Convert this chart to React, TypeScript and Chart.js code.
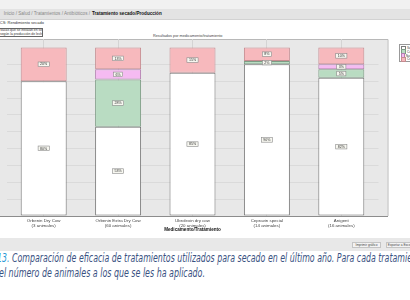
import React, { useEffect, useRef } from "react";
import { Chart, registerables } from "chart.js";

Chart.register(...registerables);

const categories: string[][] = [
  ["Orbenin Dry Cow", "(3 animales)"],
  ["Orbenin Extra Dry Cow", "(60 animales)"],
  ["Ubrolexin dry cow", "(20 animales)"],
  ["Cepravin special", "(14 animales)"],
  ["Anigent", "(16 animales)"],
];
const seriesNames = ["Sana/Sana", "Curada", "Nueva infección", "Crónica"];
const sanaValues = [80, 53, 85, 90, 82];
const curadaValues = [0, 28, 0, 2, 5];
const nuevaValues = [0, 6, 0, 0, 3];
const cronicaValues = [20, 13, 15, 8, 10];
const fills = ["#ffffff", "#b9dcc2", "#f5bbf2", "#f7b9bd"];
const borders = ["#7a7a7a", "#7d9c85", "#b27fb0", "#c58c91"];

const framePlugin = {
  id: "frame",
  beforeDraw(chart: any) {
    const { ctx, chartArea } = chart;
    ctx.save();
    ctx.fillStyle = "#e8e8e8";
    ctx.fillRect(0, chartArea.top, chartArea.right + 9, chartArea.bottom - chartArea.top);
    ctx.strokeStyle = "#b8b8b8";
    ctx.lineWidth = 1;
    ctx.beginPath();
    ctx.moveTo(0, chartArea.top + 0.5);
    ctx.lineTo(chartArea.right + 9.5, chartArea.top + 0.5);
    ctx.lineTo(chartArea.right + 9.5, chartArea.bottom);
    ctx.stroke();
    ctx.restore();
  },
  afterDatasetsDraw(chart: any) {
    const { ctx, chartArea } = chart;
    ctx.save();
    ctx.strokeStyle = "#8c8c8c";
    ctx.lineWidth = 1;
    ctx.beginPath();
    ctx.moveTo(0, chartArea.bottom + 0.5);
    ctx.lineTo(chartArea.right + 9.5, chartArea.bottom + 0.5);
    ctx.stroke();
    chart.data.datasets.forEach((ds: any, i: number) => {
      const meta = chart.getDatasetMeta(i);
      meta.data.forEach((el: any, j: number) => {
        const v = ds.data[j];
        if (!v) return;
        const p = el.getProps(["x", "y", "base"], true);
        const cy = (p.y + p.base) / 2;
        const text = v + "%";
        ctx.font = "3.6px 'Liberation Sans', Arial, sans-serif";
        const w = ctx.measureText(text).width + 4;
        const h = 4.6;
        ctx.fillStyle = "#f7f7f0";
        ctx.fillRect(p.x - w / 2, cy - h / 2, w, h);
        ctx.strokeStyle = "#8a8a8a";
        ctx.lineWidth = 0.6;
        ctx.strokeRect(p.x - w / 2, cy - h / 2, w, h);
        ctx.fillStyle = "#333";
        ctx.textAlign = "center";
        ctx.textBaseline = "middle";
        ctx.fillText(text, p.x, cy + 0.2);
      });
    });
    ctx.restore();
  },
};

function ChartBox() {
  const ref = useRef<HTMLCanvasElement | null>(null);
  useEffect(() => {
    if (!ref.current) return;
    const values = [sanaValues, curadaValues, nuevaValues, cronicaValues];
    const chart = new Chart(ref.current, {
      type: "bar",
      data: {
        labels: categories,
        datasets: values.map((d, i) => ({
          label: seriesNames[i],
          data: d,
          backgroundColor: fills[i],
          borderColor: borders[i],
          borderWidth: 1,
          borderSkipped: false,
          categoryPercentage: 1,
          barPercentage: 0.618,
        })),
      },
      options: {
        animation: false,
        responsive: false,
        maintainAspectRatio: false,
        devicePixelRatio: 1,
        layout: { padding: { left: 6.5, right: 31.5, top: 9, bottom: 0 } },
        plugins: { legend: { display: false }, tooltip: { enabled: false }, title: { display: false } },
        scales: {
          x: {
            stacked: true,
            offset: true,
            grid: { display: true, offset: false, color: "#d4d4d4", drawTicks: false },
            border: { display: false },
            ticks: {
              color: "#444",
              padding: 3,
              maxRotation: 0,
              autoSkip: false,
              font: { size: 4.4, family: "'Liberation Sans', Arial, sans-serif", lineHeight: 1.0 },
            },
            title: {
              display: true,
              text: "Medicamento/Tratamiento",
              color: "#111",
              padding: { top: 0, bottom: 6 },
              font: { size: 4.6, weight: "bold", family: "'Liberation Sans', Arial, sans-serif", lineHeight: 1.0 },
            },
            afterFit: (s: any) => {
              s.height = 22;
            },
          },
          y: {
            stacked: true,
            min: 0,
            max: 105,
            ticks: { display: false, stepSize: 10 },
            border: { display: false },
            grid: {
              drawTicks: false,
              color: (c: any) => (c.tick && c.tick.value > 0 && c.tick.value <= 100 ? "#dadada" : "rgba(0,0,0,0)"),
            },
            afterFit: (s: any) => {
              s.width = 0;
            },
          },
        },
      },
      plugins: [framePlugin],
    });
    return () => chart.destroy();
  }, []);
  return (
    <canvas
      ref={ref}
      width={410}
      height={208}
      style={{ position: "absolute", left: 0, top: 30, width: 410, height: 208 }}
    />
  );
}

const small: React.CSSProperties = {
  position: "absolute",
  whiteSpace: "nowrap",
  fontFamily: "'Liberation Sans', Arial, sans-serif",
};

const caption: React.CSSProperties = {
  position: "absolute",
  whiteSpace: "nowrap",
  fontFamily: "'DejaVu Sans Condensed', 'DejaVu Sans', sans-serif",
  fontStretch: "condensed",
  fontStyle: "italic",
  fontSize: 12,
  lineHeight: "15px",
  color: "#3a5282",
  transform: "scaleX(0.735)",
  transformOrigin: "0 0",
};

export default function App() {
  return (
    <div style={{ position: "fixed", left: 0, top: 0, width: 410, height: 300, background: "#fff", overflow: "hidden" }}>
      <div style={{ position: "absolute", left: 0, top: 0, width: 410, height: 9, background: "#f1f1f1" }} />
      <div style={{ position: "absolute", left: 0, top: 9, width: 410, height: 10, background: "#e3e3e3", borderBottom: "1px solid #d2d2d2" }} />
      <div style={{ ...small, right: 320, top: 11, fontSize: 4.6, color: "#888" }}>
        Inicio / Salud / Tratamientos / Antibióticos /
      </div>
      <div style={{ ...small, left: 92, top: 11, fontSize: 4.6, color: "#111", fontWeight: "bold" }}>
        Tratamiento secado/Producción
      </div>
      <div style={{ ...small, right: 366, top: 20, fontSize: 4, color: "#333" }}>
        Tratamiento secado/RCS: Rendimiento secado
      </div>
      <div
        style={{
          ...small,
          left: -2,
          top: 28,
          width: 45,
          height: 9,
          border: "1px solid #666",
          background: "#fff",
          fontSize: 3.4,
          lineHeight: "3.8px",
          color: "#333",
          overflow: "hidden",
          paddingLeft: 1,
          boxSizing: "border-box",
        }}
      >
        Vacas que se instalan en secado
        <br />
        según la producción de leche
      </div>
      <div style={{ ...small, left: 153, top: 34, fontSize: 3.8, color: "#444" }}>
        Resultados por medicamento/tratamiento
      </div>
      <ChartBox />
      <div
        style={{
          position: "absolute",
          left: 399,
          top: 44,
          width: 30,
          height: 18,
          border: "1px solid #999",
          background: "#fff",
          boxSizing: "border-box",
          padding: "1px 1px",
        }}
      >
        {seriesNames.map((n, i) => (
          <div key={n} style={{ display: "flex", alignItems: "center", height: 3.8, fontSize: 3, fontFamily: "'Liberation Sans', Arial, sans-serif", color: "#333", whiteSpace: "nowrap" }}>
            <span style={{ display: "inline-block", width: 3, height: 2.6, background: fills[i], border: `0.5px solid ${borders[i]}`, marginRight: 1 }} />
            {n}
          </div>
        ))}
      </div>
      <div style={{ position: "absolute", left: 0, top: 238, width: 410, height: 13, background: "#e8e8e8" }} />
      <div style={{ ...small, left: 352, top: 242, width: 29, height: 6, border: "1px solid #c4c4c4", background: "#f3f3f3", fontSize: 3.2, lineHeight: "5px", textAlign: "center", color: "#444", boxSizing: "border-box" }}>
        Imprimir gráfico
      </div>
      <div style={{ ...small, left: 386, top: 242, width: 27, height: 6, border: "1px solid #c4c4c4", background: "#f3f3f3", fontSize: 3.2, lineHeight: "5px", textAlign: "center", color: "#444", boxSizing: "border-box" }}>
        Exportar a Excel
      </div>
      <div style={{ ...caption, left: -3, top: 251, transform: "scaleX(0.728)" }}>
        <span style={{ color: "#2a9ad6" }}>13.</span> Comparación de eficacia de tratamientos utilizados para secado en el último año. Para cada tratamiento se indica
      </div>
      <div style={{ ...caption, left: -1, top: 266 }}>
        el número de animales a los que se les ha aplicado.
      </div>
    </div>
  );
}
